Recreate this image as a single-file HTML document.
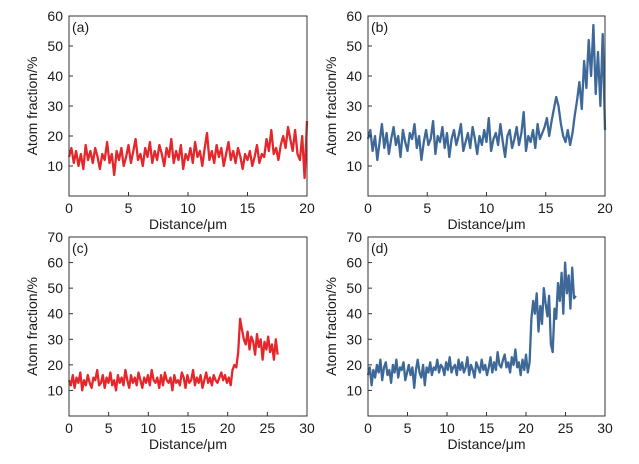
<!DOCTYPE html>
<html><head><meta charset="utf-8"><style>
body{margin:0;background:#fff;}
svg text{font-family:"Liberation Sans",sans-serif;fill:#1a1a1a;}
</style></head><body>
<svg id="chart" width="639" height="459" viewBox="0 0 639 459" xmlns="http://www.w3.org/2000/svg"></svg>
<script>
const seriesA=[13,16,11,15,10,14,9,17,12,15,11,16,13,9,14,12,18,11,14,7,15,12,16,10,13,17,11,15,19,12,14,10,16,13,18,11,15,12,17,14,10,16,13,19,11,15,12,17,9,14,12,16,11,18,13,15,10,16,21,12,15,11,17,13,16,10,14,18,12,15,11,16,13,9,14,12,15,10,13,17,11,14,13,19,15,22,14,16,12,17,20,16,23,19,15,22,14,12,20,6,25];
const seriesB=[19,22,15,20,12,18,24,16,21,14,19,23,17,20,13,22,18,15,21,19,24,16,20,12,18,22,17,19,25,14,20,18,23,16,21,13,19,22,17,20,24,15,18,21,16,23,19,14,20,17,22,18,26,15,19,21,17,24,18,13,20,22,16,19,23,17,21,28,15,20,18,22,16,24,19,21,23,26,20,25,29,33,30,24,20,18,22,17,21,27,32,38,29,45,36,52,40,57,34,48,30,54,22];
const seriesC=[14,12,16,11,15,13,17,10,14,12,16,13,11,15,14,18,12,13,16,11,15,13,17,12,14,10,16,13,15,12,18,14,11,16,13,15,12,17,14,11,15,13,16,12,18,14,13,15,11,16,12,17,14,13,15,10,16,13,14,12,17,15,11,16,13,14,18,12,15,13,16,11,14,17,13,15,12,16,14,13,15,17,14,16,13,15,12,18,20,19,25,38,34,30,28,33,26,31,29,24,32,27,30,22,29,26,31,25,28,22,30,24];
const seriesD=[16,19,12,18,15,20,17,22,14,19,21,16,18,13,20,17,22,15,19,18,21,14,17,20,16,19,11,18,22,17,15,20,12,19,17,21,16,19,18,22,17,20,19,16,21,18,23,17,19,20,16,22,18,21,17,19,23,16,20,18,15,21,19,17,22,18,20,16,19,23,17,21,18,25,20,19,22,24,19,21,17,23,20,26,19,21,16,22,18,24,17,21,38,45,40,48,33,43,36,50,44,39,47,28,25,42,38,52,45,56,40,60,48,55,42,58,46,47];
const xTicksAB=[0,5,10,15,20];
const xTicksCD=[0,5,10,15,20,25,30];
const yTicksAB=[10,20,30,40,50,60];
const yTicksCD=[10,20,30,40,50,60,70];
const panels=[
 {id:'a',data:seriesA,xEnd:20,xMax:20,yMax:60,xt:xTicksAB,yt:yTicksAB,L:69,R:307,T:16,B:196,c:'#e5262a'},
 {id:'b',data:seriesB,xEnd:20,xMax:20,yMax:60,xt:xTicksAB,yt:yTicksAB,L:368,R:605,T:16,B:196,c:'#3d6898'},
 {id:'c',data:seriesC,xEnd:26.3,xMax:30,yMax:70,xt:xTicksCD,yt:yTicksCD,L:69,R:307,T:237,B:416,c:'#e5262a'},
 {id:'d',data:seriesD,xEnd:26.3,xMax:30,yMax:70,xt:xTicksCD,yt:yTicksCD,L:368,R:605,T:237,B:416,c:'#3d6898'}
];
const svg=document.getElementById('chart');
const NS='http://www.w3.org/2000/svg';
function mk(t,a,p){const e=document.createElementNS(NS,t);for(const k in a)e.setAttribute(k,a[k]);(p||svg).appendChild(e);return e;}
panels.forEach(p=>{
 const g=mk('g',{});
 
 
 const xs=v=>p.L+(v/p.xMax)*(p.R-p.L);
 const ys=v=>p.B-(v/p.yMax)*(p.B-p.T);
 const n=p.data.length;
 const pts=p.data.map((v,i)=>xs(i*p.xEnd/(n-1)).toFixed(1)+','+ys(v).toFixed(1)).join(' ');
 const line=mk('polyline',{points:pts,fill:'none',stroke:p.c,'stroke-width':2.3,'stroke-linejoin':'round'},g);
 
 
 const fr=mk('rect',{x:p.L,y:p.T,width:p.R-p.L,height:p.B-p.T,fill:'none',stroke:'#333','stroke-width':1},g);
 
 
 p.xt.forEach(t=>{
  const x=xs(t);
  mk('line',{x1:x,x2:x,y1:p.B,y2:p.B-4,stroke:'#333'},g);
  const tx=mk('text',{x:x,y:p.B+17,'text-anchor':'middle','font-size':14},g);
  tx.textContent=t;
  
  
 });
 p.yt.forEach(t=>{
  const y=ys(t);
  mk('line',{x1:p.L,x2:p.L+4,y1:y,y2:y,stroke:'#333'},g);
  const tx=mk('text',{x:p.L-6,y:y+5,'text-anchor':'end','font-size':14},g);
  tx.textContent=t;
  
  
 });
 const lb=mk('text',{x:p.L+3,y:p.T+16,'font-size':14},g);
 lb.textContent='('+p.id+')';
 
 
 const xt=mk('text',{x:(p.L+p.R)/2,y:p.B+33,'text-anchor':'middle','font-size':14},g);
 xt.textContent='Distance/μm';
 
 
 const cy=(p.T+p.B)/2, cx=p.L-32;
 const yt=mk('text',{x:cx,y:cy,'text-anchor':'middle','font-size':14,transform:'rotate(-90 '+cx+' '+cy+')'},g);
 yt.textContent='Atom fraction/%';
 
 
});
</script>
</body></html>
